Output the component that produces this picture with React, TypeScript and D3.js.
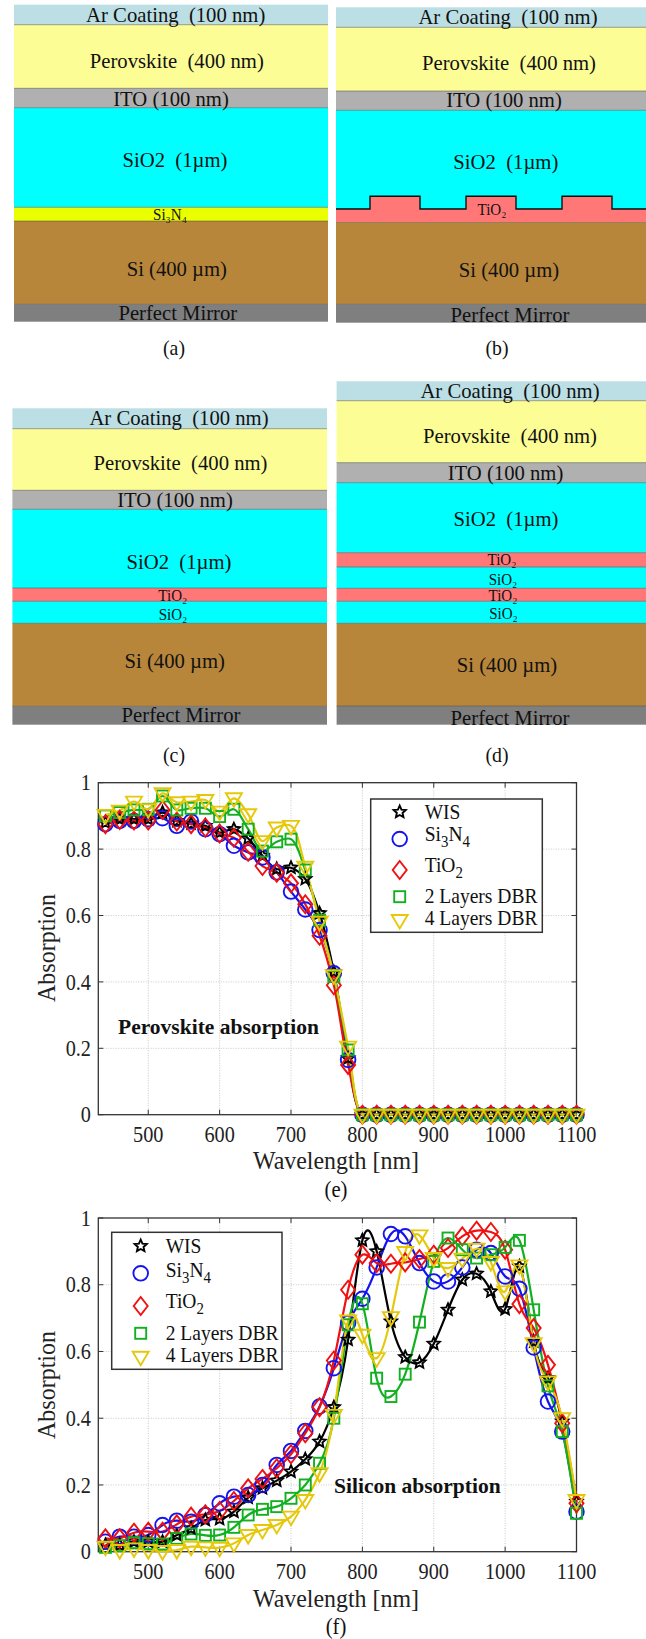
import React from "react";
import * as d3 from "d3";

const SERIF = "'Liberation Serif','Times New Roman',serif";
const wavelengths = d3.range(440, 1101, 20);
const xTicks = [500, 600, 700, 800, 900, 1000, 1100];
const yTicks = [0, 0.2, 0.4, 0.6, 0.8, 1];

const zeros = (n: number) => new Array(n).fill(0);
const eWIS = [.88,.89,.89,.89,.91,.885,.877,.87,.85,.86,.832,.78,.74,.744,.71,.607,.43,.17,...zeros(16)];
const eSi3N4 = [.875,.885,.885,.89,.893,.87,.883,.86,.845,.81,.79,.775,.73,.672,.618,.556,.426,.165,...zeros(16)];
const eTiO2 = [.875,.888,.886,.886,.918,.883,.875,.865,.847,.834,.792,.749,.729,.697,.634,.539,.39,.15,...zeros(16)];
const e2L = [.90,.91,.918,.92,.96,.918,.923,.923,.898,.92,.86,.794,.822,.83,.737,.586,.416,.195,...zeros(16)];
const e4L = [.903,.916,.943,.92,.968,.941,.943,.948,.913,.953,.905,.824,.865,.87,.747,.581,.42,.205,...zeros(16)];

const fWIS = [.02,.02,.03,.03,.03,.05,.07,.095,.098,.12,.162,.19,.213,.24,.277,.33,.433,.635,.933,.90,.69,.583,.567,.623,.725,.815,.833,.78,.727,.855,.63,.52,.39,.15];
const fSi3N4 = [.03,.045,.045,.05,.08,.093,.09,.11,.145,.165,.17,.2,.26,.302,.362,.435,.55,.685,.758,.852,.952,.945,.865,.81,.81,.852,.905,.895,.825,.788,.612,.45,.36,.12];
const fTiO2 = [.04,.04,.057,.06,.06,.082,.105,.112,.122,.152,.19,.218,.25,.292,.355,.433,.573,.785,.89,.865,.863,.867,.877,.89,.91,.945,.962,.958,.905,.742,.67,.56,.385,.145];
const f2L = [.013,.018,.027,.024,.023,.04,.053,.049,.05,.073,.11,.127,.135,.16,.2,.265,.40,.68,.743,.52,.465,.532,.688,.87,.94,.905,.88,.89,.912,.933,.725,.497,.36,.115];
const f4L = [.015,.005,.01,.005,.002,.005,.015,.013,.012,.025,.05,.065,.08,.105,.155,.235,.41,.693,.65,.58,.703,.898,.948,.88,.85,.878,.908,.868,.78,.858,.625,.51,.40,.155];

const layerColors: Record<string, string> = {
  ar: "#bbdfe4", pero: "#fdfd96", ito: "#b0b0b0", sio: "#00ffff", sin: "#eaff00",
  tio: "#ff7777", si: "#b8863b", mirror: "#7f7f7f",
};

const AR = "Ar Coating  (100 nm)", PV = "Perovskite  (400 nm)", ITO = "ITO (100 nm)", SO = "SiO2  (1µm)", SI = "Si (400 µm)", PM = "Perfect Mirror";
type Layer = [string, number];
type Label = [string, number, number, number];

const layersA: Layer[] = [["ar",4.7],["pero",24.7],["ito",88.3],["sio",107.7],["sin",207.3],["si",221],["mirror",304.3]];
const labelsA: Label[] = [[AR,175.7,15,22],[PV,176.8,61,22],[ITO,171,99,22],[SO,175,160,22],["Si₃N₄",170,215,16],[SI,176.8,269,22],[PM,177.8,313,22]];
const layersB: Layer[] = [["ar",7.3],["pero",27.3],["ito",91],["sio",110.3],["tio",209],["si",222.3],["mirror",304.3]];
const labelsB: Label[] = [[AR,508,16.7,22],[PV,509,62.3,22],[ITO,504,100,22],[SO,505.8,161.7,22],["TiO₂",492,210,16],[SI,509,270,22],[PM,510,315,22]];
const layersC: Layer[] = [["ar",408.3],["pero",428.7],["ito",490.3],["sio",509.3],["tio",588],["sio",601.3],["si",623.3],["mirror",706.3]];
const labelsC: Label[] = [[AR,179,417.3,22],[PV,180.5,462.3,22],[ITO,175,499.3,22],[SO,179,561.7,22],["TiO₂",172.8,595.3,16],["SiO₂",173,614.3,16],[SI,174.7,661,22],[PM,181,715,22]];
const layersD: Layer[] = [["ar",381.3],["pero",400.7],["ito",462.7],["sio",482.7],["tio",552.7],["sio",567],["tio",588.3],["sio",601.3],["si",623.3],["mirror",706]];
const labelsD: Label[] = [[AR,510,390.7,22],[PV,510,436,22],[ITO,505.5,472.3,22],[SO,506,519,22],["TiO₂",502,560,16],["SiO₂",503,580,16],["TiO₂",503,595.7,16],["SiO₂",503.5,614,16],[SI,507,665,22],[PM,510,717.3,22]];
const ridges: [number, number][] = [[370,420],[466,516],[562,612]];

function T({ x, y, sx = 0.9, size, anchor = "middle", children, rotate = 0, dy, weight, fill = "#111" }: any) {
  return (
    <text transform={`translate(${x},${y}) rotate(${rotate}) scale(${sx},1)`} textAnchor={anchor} dy={dy} fontSize={size} fontWeight={weight} fill={fill} style={{ whiteSpace: "pre" }}>{children}</text>
  );
}

function Stack({ layers, labels, end, x0, x1, caption, captionX, captionY }: any) {
  return (
    <g fontFamily={SERIF}>
      {layers.map((l: Layer, i: number) => {
        const top = l[1];
        const bot = i + 1 < layers.length ? layers[i + 1][1] : end;
        return (
          <g key={i}>
            <rect x={x0} y={top} width={x1 - x0} height={bot - top} fill={layerColors[l[0]]} />
            {i > 0 && <line x1={x0} x2={x1} y1={top} y2={top} stroke="#555" strokeOpacity={0.55} strokeWidth={1} />}
          </g>
        );
      })}
      {labels.map((b: Label, i: number) => (
        <T key={i} x={b[1]} y={b[2]} dy="0.34em" size={b[3]} sx={0.94}>{b[0]}</T>
      ))}
      <T x={captionX} y={captionY} dy="0.34em" size={22}>{caption}</T>
    </g>
  );
}

const seriesStyle = [
  { name: "WIS", color: "#000000", m: "star" },
  { name: "Si3N4", color: "#1414f0", m: "circle" },
  { name: "TiO2", color: "#f01010", m: "diamond" },
  { name: "2 Layers DBR", color: "#12b020", m: "square" },
  { name: "4 Layers DBR", color: "#e6c80a", m: "tri" },
];

function Marker({ m, x, y, color }: any) {
  const common = { fill: "none", stroke: color, strokeWidth: 1.9 };
  if (m === "circle") return <circle cx={x} cy={y} r={7.3} {...common} />;
  if (m === "square") return <rect x={x - 5.5} y={y - 5.5} width={11} height={11} {...common} />;
  if (m === "diamond") return <path d={`M${x},${y - 9}L${x + 7},${y}L${x},${y + 9}L${x - 7},${y}Z`} {...common} />;
  if (m === "tri") return <path d={`M${x - 8},${y - 5}L${x + 8},${y - 5}L${x},${y + 8.5}Z`} {...common} />;
  const pts = d3.range(10).map((i) => {
    const r = i % 2 ? 3 : 6.4;
    const a = (i * Math.PI) / 5;
    return `${x + r * Math.sin(a)},${y - r * Math.cos(a)}`;
  });
  return <path d={`M${pts.join("L")}Z`} {...common} />;
}

function LegendLabel({ name, x, y }: any) {
  const fs = 21;
  const t = `translate(${x},${y}) scale(0.93,1)`;
  if (name === "Si3N4")
    return <text transform={t} fontSize={fs} fill="#111">Si<tspan fontSize={16} dy={6}>3</tspan><tspan dy={-6}>N</tspan><tspan fontSize={16} dy={6}>4</tspan></text>;
  if (name === "TiO2")
    return <text transform={t} fontSize={fs} fill="#111">TiO<tspan fontSize={16} dy={6}>2</tspan></text>;
  return <text transform={t} fontSize={fs} fill="#111">{name}</text>;
}

function Chart({ series, top, bottom, legend, note, noteX, noteY, tickBase, xLabelBase, caption, capBase, yLabelY, curve }: any) {
  const x = d3.scaleLinear().domain([430, 1100]).range([98.3, 576.5]);
  const y = d3.scaleLinear().domain([0, 1]).range([bottom, top]);
  const line = d3.line<number>().x((_, i) => x(wavelengths[i])).y((d) => y(d)).curve(curve);
  const axisColor = "#333";
  return (
    <g fontFamily={SERIF}>
      {xTicks.slice(0, -1).map((t) => <line key={t} x1={x(t)} x2={x(t)} y1={top} y2={bottom} stroke="#c8c8c8" strokeDasharray="1 1.5" />)}
      {yTicks.slice(1, -1).map((t) => <line key={t} x1={x.range()[0]} x2={x.range()[1]} y1={y(t)} y2={y(t)} stroke="#c8c8c8" strokeDasharray="1 1.5" />)}
      <rect x={98.3} y={top} width={478.2} height={bottom - top} fill="none" stroke={axisColor} strokeWidth={1.3} />
      {xTicks.map((t) => (
        <g key={t}>
          <line x1={x(t)} x2={x(t)} y1={bottom} y2={bottom - 5} stroke={axisColor} />
          <line x1={x(t)} x2={x(t)} y1={top} y2={top + 5} stroke={axisColor} />
          <T x={x(t)} y={tickBase} size={22.5} fill="#222">{t}</T>
        </g>
      ))}
      {yTicks.map((t) => (
        <g key={t}>
          <line x1={98.3} x2={103.3} y1={y(t)} y2={y(t)} stroke={axisColor} />
          <line x1={576.5} x2={571.5} y1={y(t)} y2={y(t)} stroke={axisColor} />
          <T x={91} y={y(t)} dy="0.34em" anchor="end" size={22.5} fill="#222">{t}</T>
        </g>
      ))}
      {series.map((s: number[], i: number) => (
        <path key={i} d={line(s) as string} fill="none" stroke={seriesStyle[i].color} strokeWidth={2.2} />
      ))}
      {series.map((s: number[], i: number) => (
        <g key={i}>{s.map((v, j) => <Marker key={j} m={seriesStyle[i].m} x={x(wavelengths[j])} y={y(v)} color={seriesStyle[i].color} />)}</g>
      ))}
      <text x={noteX} y={noteY} fontSize={21.5} fontWeight="bold" fill="#111">{note}</text>
      <rect x={legend.x} y={legend.y} width={legend.w} height={legend.h} fill="#fff" stroke="#333" strokeWidth={1.5} />
      {seriesStyle.map((s, i) => (
        <g key={s.name}>
          <Marker m={s.m} x={legend.x + 29} y={legend.y + legend.marks[i]} color={s.color} />
          <LegendLabel name={s.name} x={legend.x + 54} y={legend.y + legend.texts[i]} />
        </g>
      ))}
      <T x={336} y={xLabelBase} size={26} sx={0.92} fill="#222">Wavelength [nm]</T>
      <T x={55} y={yLabelY} rotate={-90} size={25} sx={0.96} fill="#222">Absorption</T>
      <T x={336} y={capBase} size={23} fill="#111">{caption}</T>
    </g>
  );
}

export default function App() {
  const ridgeLine = `M336,209H${ridges[0][0]}V196.3H${ridges[0][1]}V209H${ridges[1][0]}V196.3H${ridges[1][1]}V209H${ridges[2][0]}V196.3H${ridges[2][1]}V209H646`;
  return (
    <svg width={646} height={1639} style={{ position: "absolute", left: 0, top: 0, background: "#fff" }}>
      <Stack layers={layersA} labels={labelsA} end={321.7} x0={14} x1={328} caption="(a)" captionX={174} captionY={348} />
      <Stack layers={layersB} labels={[]} end={322.7} x0={336} x1={646} caption="(b)" captionX={497} captionY={348} />
      <path d={`${ridgeLine}V222H336Z`} fill={layerColors.tio} />
      <path d={ridgeLine} fill="none" stroke="#111" strokeWidth={1.4} />
      <g fontFamily={SERIF}>
        {labelsB.map((b, i) => <T key={i} x={b[1]} y={b[2]} dy="0.34em" size={b[3]} sx={0.94}>{b[0]}</T>)}
      </g>
      <Stack layers={layersC} labels={labelsC} end={724.7} x0={12.4} x1={327} caption="(c)" captionX={174} captionY={755} />
      <Stack layers={layersD} labels={labelsD} end={724.7} x0={336.6} x1={646} caption="(d)" captionX={497} captionY={755} />
      <Chart series={[eWIS, eSi3N4, eTiO2, e2L, e4L]} curve={d3.curveCatmullRom.alpha(0.5)} top={782.7} bottom={1114.7}
        legend={{ x: 370.7, y: 799, w: 171.6, h: 133.3, marks: [13, 40, 71, 97.7, 121], texts: [20, 42, 73, 104, 126] }}
        note="Perovskite absorption" noteX={118} noteY={1034} tickBase={1142} xLabelBase={1169} caption="(e)" capBase={1197} yLabelY={948} />
      <Chart series={[fWIS, fSi3N4, fTiO2, f2L, f4L]} curve={d3.curveNatural} top={1218} bottom={1551.7}
        legend={{ x: 111.7, y: 1232.3, w: 170.3, h: 137, marks: [13.7, 41, 73.7, 101, 124.4], texts: [21, 45, 76, 108, 130] }}
        note="Silicon absorption" noteX={334} noteY={1493} tickBase={1579} xLabelBase={1607} caption="(f)" capBase={1634} yLabelY={1385} />
    </svg>
  );
}
